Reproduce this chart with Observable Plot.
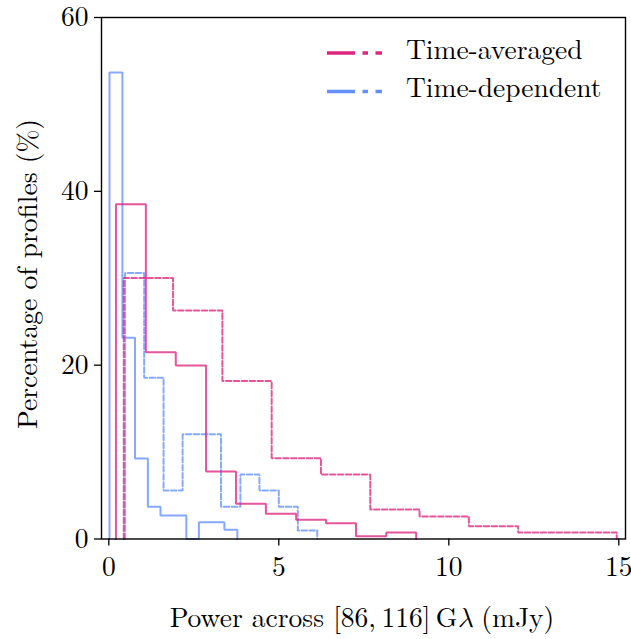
<!DOCTYPE html>
<html><head><meta charset="utf-8">
<script src="https://cdn.jsdelivr.net/npm/d3@7"></script>
<script src="https://cdn.jsdelivr.net/npm/@observablehq/plot@0.6"></script>
<style>
body{margin:0;background:#fff}
svg{display:block}
#chart svg text { font-family: "Latin Modern Roman", "Liberation Serif", serif !important; }
</style>
</head><body><div id="chart"></div>
<script>
// Bin edges (mJy) and bar heights (% of profiles)
const avgSolidEdges = [0.21, 1.09, 1.97, 2.86, 3.74, 4.62, 5.51, 6.39, 7.27, 8.16, 9.04];
const avgSolidPct   = [38.5, 21.5, 19.97, 7.77, 4.05, 2.9, 2.21, 1.82, 0.32, 0.75];
const avgDashEdges  = [0.44, 1.89, 3.34, 4.79, 6.24, 7.69, 9.14, 10.59, 12.04, 13.49, 14.94];
const avgDashPct    = [30.02, 26.3, 18.17, 9.3, 7.42, 3.4, 2.59, 1.47, 0.75, 0.75];
const depSolidEdges = [0.02, 0.40, 0.77, 1.15, 1.52, 1.90, 2.28, 2.65, 3.03, 3.40, 3.78];
const depSolidPct   = [53.67, 23.16, 9.27, 3.71, 2.71, 2.71, 0, 1.93, 1.93, 1.06];
const depDashEdges  = [0.48, 1.04, 1.61, 2.17, 2.74, 3.30, 3.87, 4.43, 5.00, 5.56, 6.13];
const depDashPct    = [30.6, 18.56, 5.58, 12.06, 12.06, 3.71, 7.42, 5.58, 3.71, 0.98];

const xTicks = [0, 5, 10, 15];
const yTicks = [0, 20, 40, 60];
const seriesNames = ["Time-averaged", "Time-dependent"];
const colors = {"Time-averaged": "#DC267F", "Time-dependent": "#648FFF"};

function stepPoints(edges, vals) {
  const pts = [{x: edges[0], y: 0}];
  vals.forEach((v, i) => pts.push({x: edges[i], y: v}));
  pts.push({x: edges[edges.length - 1], y: 0});
  return pts;
}

const FS = 27.5;
const lineOpts = (color, dashed) => ({
  x: "x", y: "y", curve: "step-after", stroke: color, strokeWidth: 2,
  strokeOpacity: 0.78, strokeDasharray: dashed ? "5.5,2.4" : null, strokeLinejoin: "miter"
});

const chart = Plot.plot({
  width: 631, height: 639,
  marginLeft: 101, marginRight: 6, marginTop: 17, marginBottom: 100.5,
  style: {background: "#fff"},
  x: {domain: [-0.215, 15.197], ticks: xTicks},
  y: {domain: [0, 60], ticks: yTicks},
  marks: [
    Plot.line(stepPoints(depSolidEdges, depSolidPct), lineOpts(colors["Time-dependent"], false)),
    Plot.line(stepPoints(depDashEdges, depDashPct), lineOpts(colors["Time-dependent"], true)),
    Plot.line(stepPoints(avgSolidEdges, avgSolidPct), lineOpts(colors["Time-averaged"], false)),
    Plot.line(stepPoints(avgDashEdges, avgDashPct), lineOpts(colors["Time-averaged"], true)),
    Plot.frame({stroke: "#000", strokeWidth: 1.4}),
    Plot.axisX({ticks: xTicks, tickSize: 7, tickPadding: 10, fontSize: FS, label: null, stroke: "#000", strokeWidth: 1.3, color: "#000"}),
    Plot.axisY({ticks: yTicks, tickSize: 7, tickPadding: 6, fontSize: FS, label: null, stroke: "#000", strokeWidth: 1.3, color: "#000"})
  ]
});
document.getElementById("chart").appendChild(chart);

const svg = d3.select(chart);
// Y axis label
svg.append("text")
  .attr("transform", "translate(31,274) rotate(-90)")
  .attr("text-anchor", "middle").attr("dominant-baseline", "middle")
  .style("font-size", FS + "px").attr("fill", "#000")
  .text("Percentage of profiles (%)");
// X axis label
const xl = svg.append("text")
  .attr("x", 362).attr("y", 621)
  .attr("text-anchor", "middle").attr("dominant-baseline", "middle")
  .style("font-size", FS + "px").attr("fill", "#000");
xl.append("tspan").text("Power across [86,\u2009116]\u2009G");
xl.append("tspan").style("font-style", "italic")
  .style("font-family", "'Latin Modern Math', 'Latin Modern Roman', 'Liberation Serif', serif").text("λ");
xl.append("tspan").text(" (mJy)");

// Legend
const lg = svg.append("g");
seriesNames.forEach((name, i) => {
  const y = 53 + i * 38.5;
  lg.append("line").attr("x1", 327).attr("x2", 382).attr("y1", y).attr("y2", y)
    .attr("stroke", colors[name]).attr("stroke-width", 3.6)
    .attr("stroke-dasharray", "28 7.5 5.5 7.5 6.5");
  lg.append("text").attr("x", 406).attr("y", y).attr("text-anchor", "start")
    .attr("dominant-baseline", "middle")
    .style("font-size", FS + "px").attr("fill", "#000").text(name);
});
</script></body></html>
